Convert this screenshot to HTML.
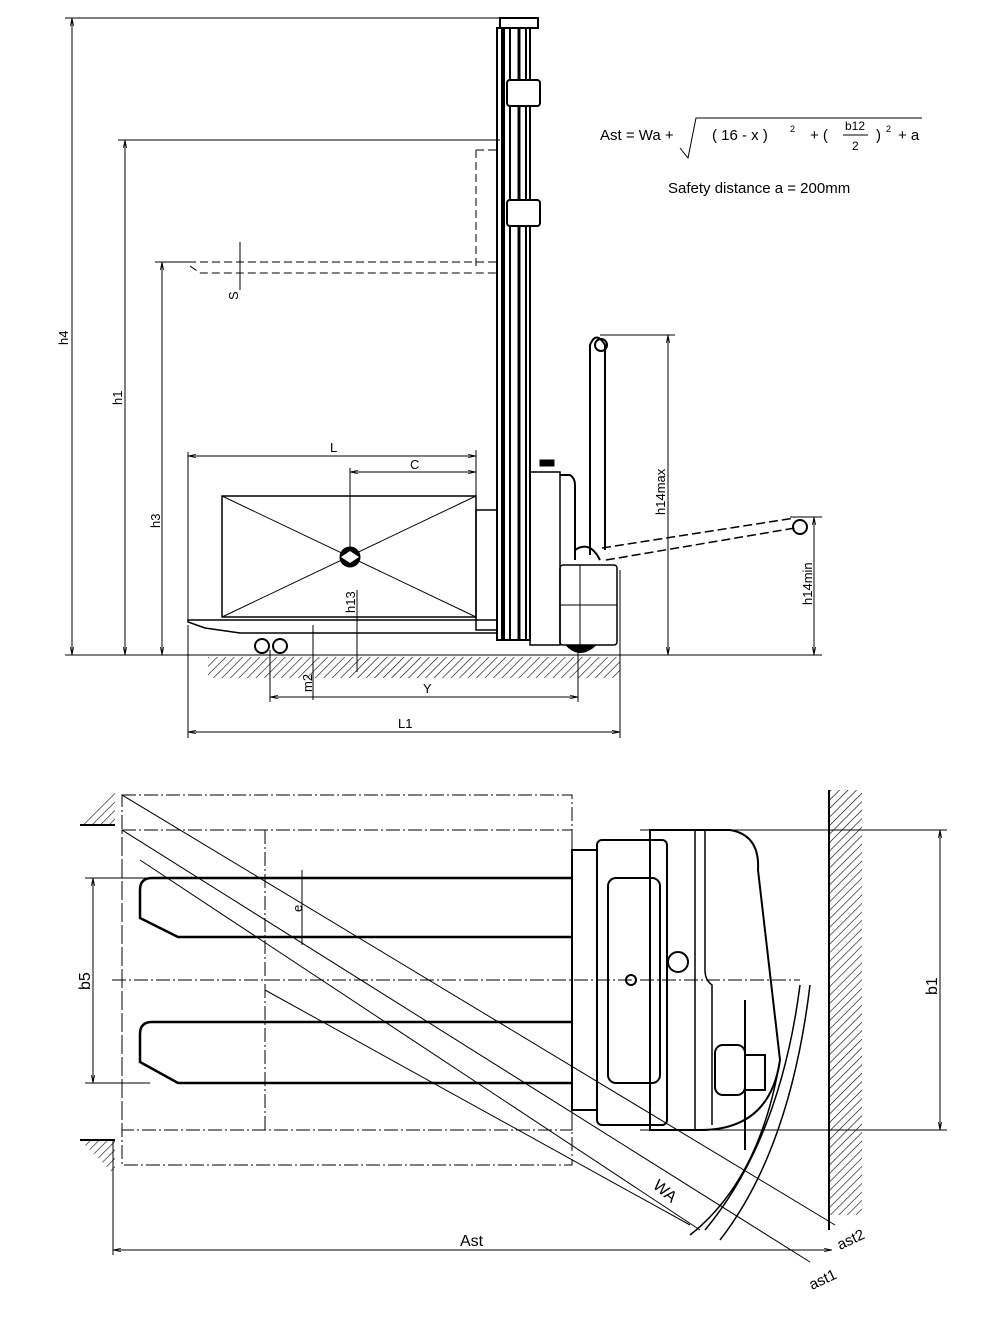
<!DOCTYPE html>
<html><head><meta charset="utf-8"><style>
html,body{margin:0;padding:0;background:#fff;}
svg{display:block}
text{font-family:"Liberation Sans",sans-serif;fill:#000}
.n{font-family:"Liberation Mono",monospace;font-size:13px}
</style></head><body>
<svg width="1000" height="1325" viewBox="0 0 1000 1325" xmlns="http://www.w3.org/2000/svg">
<defs>
<pattern id="h" width="6" height="6" patternUnits="userSpaceOnUse" patternTransform="rotate(45)">
<line x1="0" y1="0" x2="0" y2="6" stroke="#000" stroke-width="1.2"/></pattern>
<marker id="a" viewBox="0 0 10 10" refX="10" refY="5" markerWidth="8" markerHeight="8" orient="auto-start-reverse"><path d="M0,3 L10,5 L0,7" fill="none" stroke="#000"/></marker>
</defs>
<g stroke="#000" fill="none" stroke-width="1">
<line x1="65" y1="655" x2="822" y2="655"/>
<rect x="208" y="657" width="412" height="21" fill="url(#h)" stroke="none"/>
<line x1="65" y1="18" x2="500" y2="18"/>
<line x1="118" y1="140" x2="500" y2="140"/>
<line x1="155" y1="262" x2="190" y2="262"/>
<line x1="600" y1="335" x2="675" y2="335"/>
<line x1="790" y1="517" x2="822" y2="517"/>
<line x1="72" y1="18" x2="72" y2="655" marker-start="url(#a)" marker-end="url(#a)"/>
<line x1="125" y1="140" x2="125" y2="655" marker-start="url(#a)" marker-end="url(#a)"/>
<line x1="162" y1="262" x2="162" y2="655" marker-start="url(#a)" marker-end="url(#a)"/>
<line x1="668" y1="335" x2="668" y2="655" marker-start="url(#a)" marker-end="url(#a)"/>
<line x1="814" y1="517" x2="814" y2="655" marker-start="url(#a)" marker-end="url(#a)"/>
<line x1="240" y1="242" x2="240" y2="290"/>
<line x1="357" y1="590" x2="357" y2="672"/>
<line x1="313" y1="625" x2="313" y2="700"/>
<line x1="188" y1="456" x2="476" y2="456" marker-start="url(#a)" marker-end="url(#a)"/>
<line x1="350" y1="472" x2="476" y2="472" marker-start="url(#a)" marker-end="url(#a)"/>
<line x1="188" y1="452" x2="188" y2="620"/>
<line x1="476" y1="450" x2="476" y2="500"/>
<line x1="350" y1="468" x2="350" y2="557"/>
<line x1="270" y1="697" x2="578" y2="697" marker-start="url(#a)" marker-end="url(#a)"/>
<line x1="270" y1="650" x2="270" y2="702"/><line x1="578" y1="650" x2="578" y2="702"/>
<line x1="188" y1="732" x2="620" y2="732" marker-start="url(#a)" marker-end="url(#a)"/>
<line x1="188" y1="625" x2="188" y2="738"/><line x1="620" y1="570" x2="620" y2="738"/>
<!-- mast -->
<rect x="497" y="28" width="33" height="612" stroke-width="2"/>
<rect x="500" y="18" width="38" height="10" stroke-width="2"/>
<line x1="503" y1="28" x2="503" y2="640" stroke-width="4"/>
<line x1="510" y1="28" x2="510" y2="640" stroke-width="2"/>
<line x1="519" y1="28" x2="519" y2="640" stroke-width="3"/>
<line x1="526" y1="28" x2="526" y2="640" stroke-width="2"/>
<rect x="507" y="80" width="33" height="26" rx="3" fill="#fff" stroke-width="2"/>
<rect x="507" y="200" width="33" height="26" rx="3" fill="#fff" stroke-width="2"/>
<g stroke-dasharray="8,4">
<path d="M188,262 H497 M190,266 L200,273 H497 M476,150 H497 V270 M476,150 V270"/>
</g>
<rect x="222" y="496" width="254" height="121" stroke-width="1.5"/>
<line x1="222" y1="496" x2="476" y2="617"/><line x1="222" y1="617" x2="476" y2="496"/>
<circle cx="350" cy="557" r="10" fill="#000"/><path d="M341,557 L350,551 L359,557 L350,563Z" fill="#fff" stroke="none"/>
<rect x="476" y="510" width="21" height="120" stroke-width="1.5"/>
<path d="M188,620 H497 V633 H240 L205,628 L188,622Z" stroke-width="1.5"/>
<circle cx="262" cy="646" r="7" stroke-width="2"/><circle cx="280" cy="646" r="7" stroke-width="2"/>
<rect x="530" y="472" width="30" height="173" stroke-width="1.5"/>
<rect x="560" y="565" width="57" height="80" rx="3" stroke-width="1.5"/>
<line x1="560" y1="605" x2="617" y2="605"/><line x1="580" y1="565" x2="580" y2="645"/>
<path d="M560,475 H570 Q575,478 575,485 V560" stroke-width="2"/>
<rect x="540" y="460" width="14" height="6" fill="#000"/>
<path d="M566,645 Q580,660 596,645" fill="#000"/>
<path d="M590,555 V345 Q596,330 605,345 V550" stroke-width="2"/>
<circle cx="601" cy="345" r="6" stroke-width="2"/>
<path d="M575,550 Q590,540 600,560" stroke-width="2"/>
<g stroke-dasharray="9,4" stroke-width="1.5"><line x1="602" y1="548" x2="795" y2="518"/><line x1="606" y1="560" x2="795" y2="528"/></g>
<circle cx="800" cy="527" r="7" stroke-width="2"/>
<!-- top view -->
<path d="M80,825 L115,790 V825Z" fill="url(#h)" stroke="none"/><line x1="80" y1="825" x2="115" y2="825" stroke-width="2"/>
<path d="M80,1140 L115,1175 V1140Z" fill="url(#h)" stroke="none"/><line x1="80" y1="1140" x2="115" y2="1140" stroke-width="2"/>
<line x1="113" y1="1140" x2="113" y2="1255"/>
<rect x="829" y="790" width="33" height="425" fill="url(#h)" stroke="none"/>
<line x1="829" y1="790" x2="829" y2="1230" stroke-width="2"/>
<g stroke-dasharray="14,3,2,3">
<rect x="122" y="795" width="450" height="370"/>
<rect x="122" y="830" width="450" height="300"/>
<line x1="265" y1="830" x2="265" y2="1130"/>
<line x1="112" y1="980" x2="800" y2="980"/>
</g>
<path d="M572,878 H152 Q140,878 140,890 V918 L178,937 H572" stroke-width="2.5"/>
<path d="M572,1022 H152 Q140,1022 140,1034 V1062 L178,1083 H572" stroke-width="2.5"/>
<line x1="85" y1="878" x2="150" y2="878"/><line x1="85" y1="1083" x2="150" y2="1083"/>
<line x1="93" y1="878" x2="93" y2="1083" marker-start="url(#a)" marker-end="url(#a)"/>
<line x1="302" y1="870" x2="302" y2="945"/>
<line x1="940" y1="830" x2="940" y2="1130" marker-start="url(#a)" marker-end="url(#a)"/>
<line x1="640" y1="830" x2="947" y2="830"/><line x1="640" y1="1130" x2="947" y2="1130"/>
<line x1="113" y1="1250" x2="832" y2="1250" marker-start="url(#a)" marker-end="url(#a)"/>
<line x1="122" y1="795" x2="835" y2="1225"/>
<line x1="122" y1="830" x2="810" y2="1262"/>
<line x1="140" y1="860" x2="700" y2="1230"/>
<line x1="265" y1="990" x2="690" y2="1225"/>
<rect x="572" y="850" width="25" height="260" stroke-width="2"/>
<rect x="597" y="840" width="70" height="285" rx="5" stroke-width="2"/>
<rect x="608" y="878" width="52" height="205" rx="8" stroke-width="2"/>
<path d="M650,830 H730 Q760,835 758,870 L780,1060 Q770,1130 700,1130 H650 Z" stroke-width="2"/>
<path d="M695,830 V1130 M705,830 V970 Q705,980 712,985 V1125" stroke-width="1.5"/>
<circle cx="678" cy="962" r="10" stroke-width="2"/><circle cx="631" cy="980" r="5" stroke-width="2"/>
<rect x="715" y="1045" width="30" height="50" rx="8" stroke-width="2"/>
<rect x="745" y="1055" width="20" height="35" stroke-width="2"/>
<line x1="745" y1="1000" x2="745" y2="1150" stroke-width="2"/>
<path d="M810,985 Q790,1150 720,1240 M800,985 Q780,1140 705,1230 M780,1060 Q760,1180 690,1235" stroke-width="1.5"/>
</g>
<g class="n">
<text transform="translate(68,345) rotate(-90)">h4</text>
<text transform="translate(122,405) rotate(-90)">h1</text>
<text transform="translate(160,528) rotate(-90)">h3</text>
<text transform="translate(238,300) rotate(-90)">S</text>
<text transform="translate(355,613) rotate(-90)">h13</text>
<text transform="translate(312,692) rotate(-90)">m2</text>
<text transform="translate(665,515) rotate(-90)">h14max</text>
<text transform="translate(812,605) rotate(-90)">h14min</text>
<text x="330" y="452">L</text><text x="410" y="469">C</text>
<text x="423" y="693">Y</text><text x="398" y="728">L1</text>
<text transform="translate(90,990) rotate(-90)" style="font-size:16px">b5</text>
<text transform="translate(302,912) rotate(-90)">e</text>
<text transform="translate(937,995) rotate(-90)" style="font-size:16px">b1</text>
<text x="460" y="1246" style="font-size:16px">Ast</text>
<text transform="translate(652,1187) rotate(40)" style="font-size:16px">WA</text>
<text transform="translate(840,1250) rotate(-25)" style="font-size:15px">ast2</text>
<text transform="translate(812,1290) rotate(-25)" style="font-size:15px">ast1</text>
</g>
<g style="font-size:15px">
<text x="600" y="140">Ast = Wa +</text>
<path d="M680,148 L688,158 L696,118 H922" stroke="#000" fill="none"/>
<text x="712" y="140">( 16 - x )</text><text x="790" y="132" style="font-size:9px">2</text>
<text x="810" y="140">+  (</text><text x="845" y="130" style="font-size:12px">b12</text>
<line x1="843" y1="135" x2="868" y2="135" stroke="#000"/><text x="852" y="150" style="font-size:12px">2</text>
<text x="876" y="140">)</text><text x="886" y="132" style="font-size:9px">2</text><text x="898" y="140">+ a</text>
<text x="668" y="193">Safety distance a = 200mm</text>
</g>
</svg>
</body></html>
